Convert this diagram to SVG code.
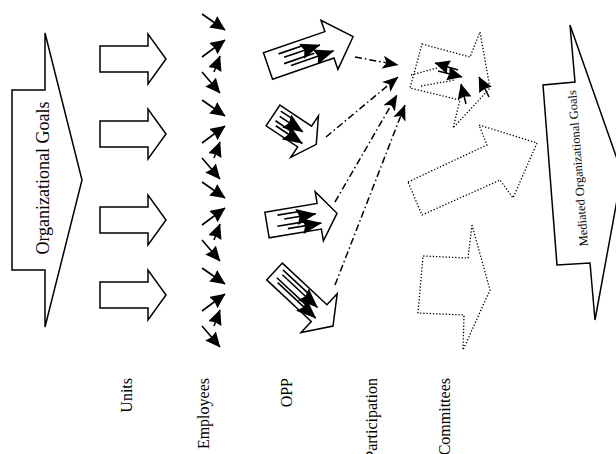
<svg xmlns="http://www.w3.org/2000/svg" xmlns:xlink="http://www.w3.org/1999/xlink" width="616" height="454" viewBox="0 0 616 454">
<style>
.o{fill:#fff;stroke:#000;stroke-width:1.5;stroke-linejoin:miter}
.d{fill:none;stroke:#000;stroke-width:1.3;stroke-dasharray:1.3 1.9}
.e{fill:none;stroke:#000;stroke-width:1.6;marker-end:url(#hd)}
.i{fill:none;stroke:#000;stroke-width:1.6;marker-end:url(#hi)}
.l{fill:none;stroke:#000;stroke-width:1.6}
.p{fill:none;stroke:#000;stroke-width:1.5;stroke-dasharray:7 3 1.5 3;marker-end:url(#hp)}
text{font-family:"Liberation Serif","Times New Roman",serif;fill:#000}
.lb{font-size:16px;text-anchor:end}
</style>
<defs>
<marker id="hd" viewBox="0 0 15 14" refX="14.5" refY="7" markerWidth="15" markerHeight="14" markerUnits="userSpaceOnUse" orient="auto"><path d="M0,0 L15,7 L0,14 L1.5,7 z" fill="#000"/></marker>
<marker id="hi" viewBox="0 0 20 16" refX="19.5" refY="8" markerWidth="20" markerHeight="16" markerUnits="userSpaceOnUse" orient="auto"><path d="M0,0 L20,8 L0,16 L3,8 z" fill="#000"/></marker>
<marker id="hp" viewBox="0 0 16 13" refX="15.5" refY="6.5" markerWidth="16" markerHeight="13" markerUnits="userSpaceOnUse" orient="auto"><path d="M0,0 L16,6.5 L0,13 L4,6.5 z" fill="#000"/></marker>
<polygon id="unitArrow" points="0,-13 48,-13 48,-25 66,0 48,25 48,13 0,13"/>
<g id="empSet">
<line class="e" x1="202" y1="0" x2="225" y2="16"/>
<line class="e" x1="202" y1="43" x2="225" y2="26"/>
<line class="e" x1="214" y1="58" x2="220" y2="42"/>
<line class="e" x1="202" y1="58" x2="220" y2="79"/>
</g>
</defs>

<g id="org-goals">
<polygon class="o" points="45,33 82,180 45,327 45,270 12,270 12,90 45,90"/>
<text transform="translate(49,178) rotate(-90)" font-size="18" text-anchor="middle">Organizational Goals</text>
</g>

<g id="units">
<use xlink:href="#unitArrow" class="o" transform="translate(100,59)"/>
<use xlink:href="#unitArrow" class="o" transform="translate(100,134)"/>
<use xlink:href="#unitArrow" class="o" transform="translate(100,220)"/>
<use xlink:href="#unitArrow" class="o" transform="translate(100,295)"/>
</g>

<g id="employees">
<use xlink:href="#empSet" y="14"/>
<use xlink:href="#empSet" y="100"/>
<use xlink:href="#empSet" y="182"/>
<use xlink:href="#empSet" y="268"/>
</g>

<g id="opp1" transform="translate(268,66) rotate(-19)">
<polygon class="o" points="0,-14 65,-14 65,-26 90,0 65,26 65,14 0,14"/>
<line class="l" x1="14" y1="-8" x2="40" y2="-8"/>
<line class="i" x1="18" y1="-3" x2="56" y2="-3"/>
<line class="l" x1="16" y1="3" x2="48" y2="3"/>
<line class="i" x1="22" y1="7" x2="67" y2="7"/>
</g>
<g id="opp2" transform="translate(273,115.5) rotate(33.7)">
<polygon class="o" points="0,-12.5 38,-12.5 38,-25 52,0 38,25 38,12.5 0,12.5"/>
<line class="l" x1="4" y1="-8" x2="20" y2="-8"/>
<line class="i" x1="6" y1="-3" x2="34" y2="-3"/>
<line class="l" x1="5" y1="3" x2="24" y2="3"/>
<line class="i" x1="8" y1="7" x2="40" y2="7"/>
</g>
<g id="opp3" transform="translate(267,225) rotate(-9.5)">
<polygon class="o" points="0,-13 53,-13 53,-25 71,0 53,25 53,13 0,13"/>
<line class="l" x1="12" y1="-8" x2="36" y2="-8"/>
<line class="i" x1="18" y1="-3" x2="50" y2="-3"/>
<line class="l" x1="10" y1="3" x2="40" y2="3"/>
<line class="i" x1="20" y1="7" x2="54" y2="7"/>
</g>
<g id="opp4" transform="translate(274.5,271.5) rotate(43)">
<polygon class="o" points="0,-11.5 61,-11.5 61,-26.5 80,0 61,26.5 61,11.5 0,11.5"/>
<line class="l" x1="5" y1="-7" x2="44" y2="-7"/>
<line class="i" x1="8" y1="-3" x2="56" y2="-3"/>
<line class="l" x1="6" y1="3" x2="48" y2="3"/>
<line class="i" x1="10" y1="6" x2="62" y2="6"/>
</g>

<g id="connectors">
<line class="p" x1="355" y1="57" x2="398" y2="65"/>
<line class="p" x1="326" y1="137" x2="398" y2="77"/>
<line class="p" x1="335" y1="202" x2="397" y2="95"/>
<line class="p" x1="335" y1="285" x2="405" y2="105"/>
</g>

<g id="committee1">
<polygon class="d" points="422,44 470,57 480,32 490,88 453,128 460,100 410,88"/>
<line class="d" x1="411" y1="75" x2="437" y2="68"/>
<line class="d" x1="421" y1="86" x2="455" y2="80"/>
<line class="e" x1="458" y1="70" x2="435" y2="63"/>
<line class="e" x1="438" y1="71" x2="462" y2="77"/>
<line class="e" x1="466" y1="104" x2="461" y2="84"/>
<line class="e" x1="489" y1="97" x2="479" y2="77"/>
</g>
<g id="committee2">
<polygon class="d" points="408,182 487,145 479,125 537,143 513,198 500,180 422,215"/>
</g>
<g id="committee3">
<polygon class="d" points="472,225 468,258 423,256 418,313 464,315 463,350 490,290"/>
</g>

<g id="mediated-goals">
<polygon class="o" points="570,25 575,82 543,85 557,265 590,263 595,320 622,173"/>
<text transform="translate(582,168) rotate(-94.4)" font-size="12.5" text-anchor="middle">Mediated Organizational Goals</text>
</g>

<g id="labels">
<text class="lb" transform="translate(132,378) rotate(-90)">Units</text>
<text class="lb" transform="translate(209,378) rotate(-90)">Employees</text>
<text class="lb" transform="translate(292,378) rotate(-90)">OPP</text>
<text class="lb" transform="translate(377,378) rotate(-90)">Participation</text>
<text class="lb" transform="translate(450,378) rotate(-90)">Committees</text>
</g>
</svg>
